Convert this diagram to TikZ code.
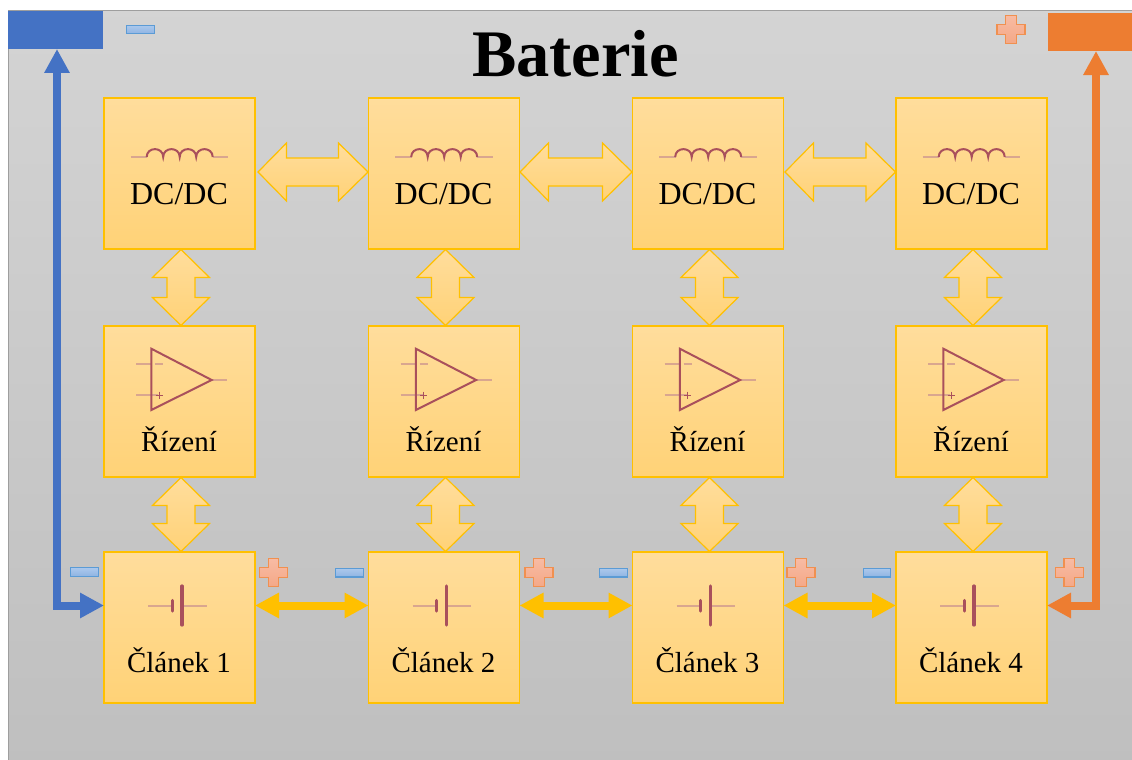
\documentclass[tikz,border=0pt]{standalone}
\usepackage{fontspec}
\setmainfont{Liberation Serif}
\usetikzlibrary{arrows.meta,calc}
\definecolor{amber}{HTML}{FFC000}
\definecolor{celltop}{HTML}{FFDD9C}
\definecolor{cellbot}{HTML}{FFD277}
\definecolor{symdark}{HTML}{A9505C}
\definecolor{symlight}{HTML}{D9A68F}
\definecolor{bluebar}{HTML}{4472C4}
\definecolor{orangebar}{HTML}{ED7D31}
\definecolor{minusedge}{HTML}{5B9BD5}
\definecolor{minustop}{HTML}{ABC8EC}
\definecolor{minusbot}{HTML}{8FB4E3}
\definecolor{plustop}{HTML}{F8BBA3}
\definecolor{plusbot}{HTML}{F4A887}
\tikzset{
  cell/.style={draw=amber,line width=1.5pt,top color=celltop,bottom color=cellbot,minimum size=151pt,inner sep=0pt,outer sep=0pt},
  celltext/.style={font=\fontsize{29}{32}\selectfont,anchor=base,inner sep=0pt},
  dctext/.style={font=\fontsize{32}{36}\selectfont,anchor=base,inner sep=0pt},
  titletext/.style={font=\fontsize{66.5}{70}\selectfont\bfseries,anchor=base,inner sep=0pt},
  block/.style={draw=amber,line width=1.2pt,top color=celltop,bottom color=cellbot,line join=miter},
  thinlink/.style={line width=8pt,line join=miter,{Triangle[length=24pt,width=24pt]}-{Triangle[length=24pt,width=24pt]}},
  terminal/.style={minimum height=38pt,inner sep=0pt,outer sep=0pt},
  minusmark/.style={draw=minusedge,line width=1.2pt,top color=minustop,bottom color=minusbot,minimum width=27.5pt,minimum height=8.5pt,inner sep=0pt},
  plusmark/.style={draw=orangebar!85,line width=1.3pt,top color=plustop,bottom color=plusbot,line join=miter},
  symstrong/.style={draw=symdark,line width=2pt},
  symsoft/.style={draw=symlight,line width=1.8pt},
}
\newcommand{\blockH}[3]{%
  \path[block] let \p1=(#1.east),\p2=(#2.west),\n1={\y1+1.5pt} in
    (\x1+#3pt,\n1) -- (\x1+#3pt+28.5pt,\n1+29pt) -- (\x1+#3pt+28.5pt,\n1+14pt) -- (\x2-30pt,\n1+14pt) -- (\x2-30pt,\n1+29pt) --
    (\x2-0.5pt,\n1) -- (\x2-30pt,\n1-29pt) -- (\x2-30pt,\n1-14pt) -- (\x1+#3pt+28.5pt,\n1-14pt) -- (\x1+#3pt+28.5pt,\n1-29pt) -- cycle;}
\newcommand{\blockV}[2]{%
  \path[block] let \p1=(#1.south),\p2=(#2.north),\n1={\x1+1.5pt} in
    (\n1,\y1-0.5pt) -- (\n1+28.5pt,\y1-28.5pt) -- (\n1+14pt,\y1-28.5pt) -- (\n1+14pt,\y2+28.5pt) -- (\n1+28.5pt,\y2+28.5pt) --
    (\n1,\y2+0.5pt) -- (\n1-28.5pt,\y2+28.5pt) -- (\n1-14pt,\y2+28.5pt) -- (\n1-14pt,\y1-28.5pt) -- (\n1-28.5pt,\y1-28.5pt) -- cycle;}
\newcommand{\plussign}[2]{%
  \path[plusmark,shift={(#1,#2)}] (-5.2,-14) -- (5.2,-14) -- (5.2,-5) -- (14,-5) -- (14,5) -- (5.2,5) -- (5.2,14) -- (-5.2,14) -- (-5.2,5) -- (-14,5) -- (-14,-5) -- (-5.2,-5) -- cycle;}
\begin{document}
\begin{tikzpicture}[x=1pt,y=-1pt]
\useasboundingbox (0,0) rectangle (1132,760);
\fill[white] (0,0) rectangle (1132,760);
\path[top color=black!17,bottom color=black!25] (8.5,11) rectangle (1132,760);
\draw[black!38,line width=1pt] (8.5,760) -- (8.5,11) -- (1132,11);

\node[titletext] (title) at (575.5,77) {Baterie};
\node[terminal,fill=bluebar,minimum width=95pt] (neg) at (55.5,30) {};
\node[terminal,fill=orangebar,minimum width=84pt] (pos) at (1090,32) {};

\foreach \i/\xc in {1/179.5,2/444,3/708,4/971.5}{
  \node[cell] (dc\i) at (\xc,173.5) {};
  \node[cell] (ctl\i) at (\xc,401.5) {};
  \node[cell] (cell\i) at (\xc,627.5) {};
  \node[dctext] (dclabel\i) at (\xc-0.5,204) {DC/DC};
  \node[celltext] (ctllabel\i) at (\xc-0.5,451) {Řízení};
  \node[celltext] (celllabel\i) at (\xc-0.5,672) {Článek \i};
  \begin{scope}[shift={(\xc-179.5,0)}]
    % inductor
    \draw[symsoft] (130.7,157) -- (147,157) (212.5,157) -- (228,157);
    \draw[symstrong] (146.7,157)
      .. controls (146.7,146.5) and (163.2,146.5) .. (163.2,157)
      .. controls (163.2,146.5) and (179.7,146.5) .. (179.7,157)
      .. controls (179.7,146.5) and (196.2,146.5) .. (196.2,157)
      .. controls (196.2,146.5) and (212.7,146.5) .. (212.7,157);
    % amplifier
    \draw[symsoft] (136,364.3) -- (151,364.3) (155,364.3) -- (163,364.3) (136,395) -- (158,395) (211.7,380) -- (227,380);
    \draw[symstrong,line join=miter] (151.3,348.7) -- (211.7,380) -- (151.3,410) -- cycle;
    \draw[symdark,line width=0.8pt] (155.5,395) -- (162.5,395) (159,391.5) -- (159,398.5);
    % battery
    \draw[symsoft] (148,605.7) -- (172,605.7) (182,605.7) -- (206.7,605.7);
    \draw[symstrong,line width=3.2pt,line cap=round] (172.3,600.5) -- (172.3,611);
    \draw[symstrong,line width=3.2pt,line cap=round] (182,586) -- (182,625);
  \end{scope}
}

\blockH{dc1}{dc2}{3}
\blockH{dc2}{dc3}{0.5}
\blockH{dc3}{dc4}{1.5}
\foreach \a/\b in {1/2,2/3,3/4}{
  \draw[thinlink,amber] ([yshift=22pt]cell\a.east) -- ([yshift=22pt]cell\b.west);
}
\foreach \i in {1,2,3,4}{
  \blockV{dc\i}{ctl\i}
  \blockV{ctl\i}{cell\i}
}

\draw[thinlink,bluebar] ([xshift=1.5pt]neg.south) |- ([yshift=22pt]cell1.west);
\draw[thinlink,orangebar] ([xshift=6pt]pos.south) |- ([yshift=22pt]cell4.east);

\node[minusmark] (m0) at (140.5,29.5) {};
\node[minusmark] (m1) at (84.5,572) {};
\node[minusmark] (m2) at (349.5,572.7) {};
\node[minusmark] (m3) at (613.5,572.7) {};
\node[minusmark] (m4) at (877,572.7) {};
\plussign{1011}{29.5}
\plussign{273.5}{572.7}
\plussign{539}{572.7}
\plussign{801}{572.7}
\plussign{1069.3}{572.7}
\end{tikzpicture}
\end{document}
